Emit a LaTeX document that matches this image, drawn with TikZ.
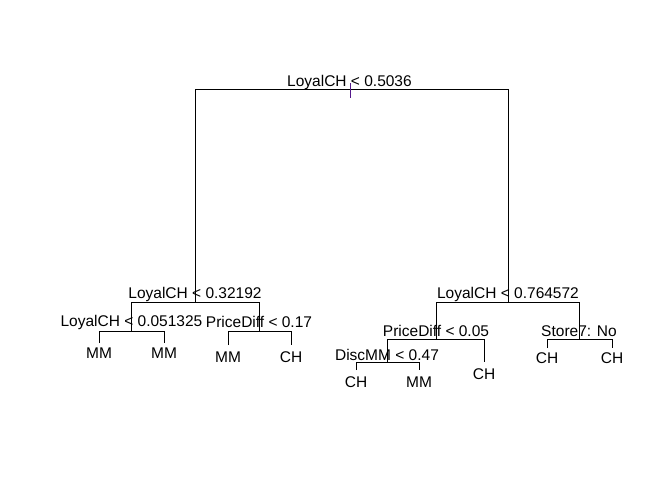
\documentclass[tikz,border=0pt]{standalone}
\usepackage{fontspec}
\setmainfont{Liberation Sans}
\definecolor{tickcol}{RGB}{85,26,139}
\begin{document}
\begin{tikzpicture}[x=1pt,y=-1pt,
  edge/.style={draw=black,line width=0.9pt},
  lbl/.style={anchor=base,inner sep=0pt,font=\fontsize{15.5}{18}\selectfont},
  leaf/.style={lbl}]
\useasboundingbox (0,0) rectangle (672,480);
% tree nodes
\coordinate (n1) at (349.5,89.5);
\coordinate (n2) at (195,302);
\coordinate (n3) at (508,302);
\coordinate (n4) at (131.5,331);
\coordinate (n5) at (259,331);
\coordinate (n6) at (436,339);
\coordinate (n7) at (579,339);
\coordinate (n8) at (387,362.5);
\coordinate (l1) at (99,343);
\coordinate (l2) at (164,343);
\coordinate (l3) at (228,345);
\coordinate (l4) at (291,345);
\coordinate (l5) at (356,370);
\coordinate (l6) at (419,370);
\coordinate (l7) at (484,362);
\coordinate (l8) at (547,348);
\coordinate (l9) at (612,348);
% edges
\draw[edge] (n2) -- (n2 |- n1) -- (n3 |- n1) -- (n3);
\draw[edge] (n4) -- (n4 |- n2) -- (n5 |- n2) -- (n5);
\draw[edge] (l1) -- (l1 |- n4) -- (l2 |- n4) -- (l2);
\draw[edge] (l3) -- (l3 |- n5) -- (l4 |- n5) -- (l4);
\draw[edge] (n6) -- (n6 |- n3) -- (n7 |- n3) -- (n7);
\draw[edge] (n8) -- (n8 |- n6) -- (l7 |- n6) -- (l7);
\draw[edge] (l8) -- (l8 |- n7) -- (l9 |- n7) -- (l9);
\draw[edge] (l5) -- (l5 |- n8) -- (l6 |- n8) -- (l6);
% root tick
\coordinate (t1) at (350,83);
\coordinate (t2) at (350,98);
\draw[tickcol,line width=1pt] (t1) -- (t2);
% split labels
\node[lbl] (s1) at (349.5,86) {LoyalCH < 0.5036};
\node[lbl] (s2) at (195,298) {LoyalCH < 0.32192};
\node[lbl] (s3) at (508,298) {LoyalCH < 0.764572};
\node[lbl] (s4) at (131.5,326) {LoyalCH < 0.051325};
\node[lbl] (s5) at (259,327) {PriceDiff < 0.17};
\node[lbl] (s6) at (436,336) {PriceDiff < 0.05};
\node[lbl] (s7) at (579,336) {Store7: No};
\node[lbl] (s8) at (387,360) {DiscMM < 0.47};
% leaf labels
\node[leaf] (f1) at (99,358) {MM};
\node[leaf] (f2) at (164,358) {MM};
\node[leaf] (f3) at (228,362) {MM};
\node[leaf] (f4) at (291,362) {CH};
\node[leaf] (f5) at (356,387) {CH};
\node[leaf] (f6) at (419,387) {MM};
\node[leaf] (f7) at (484,379) {CH};
\node[leaf] (f8) at (547,363) {CH};
\node[leaf] (f9) at (612,363) {CH};
\end{tikzpicture}
\end{document}
